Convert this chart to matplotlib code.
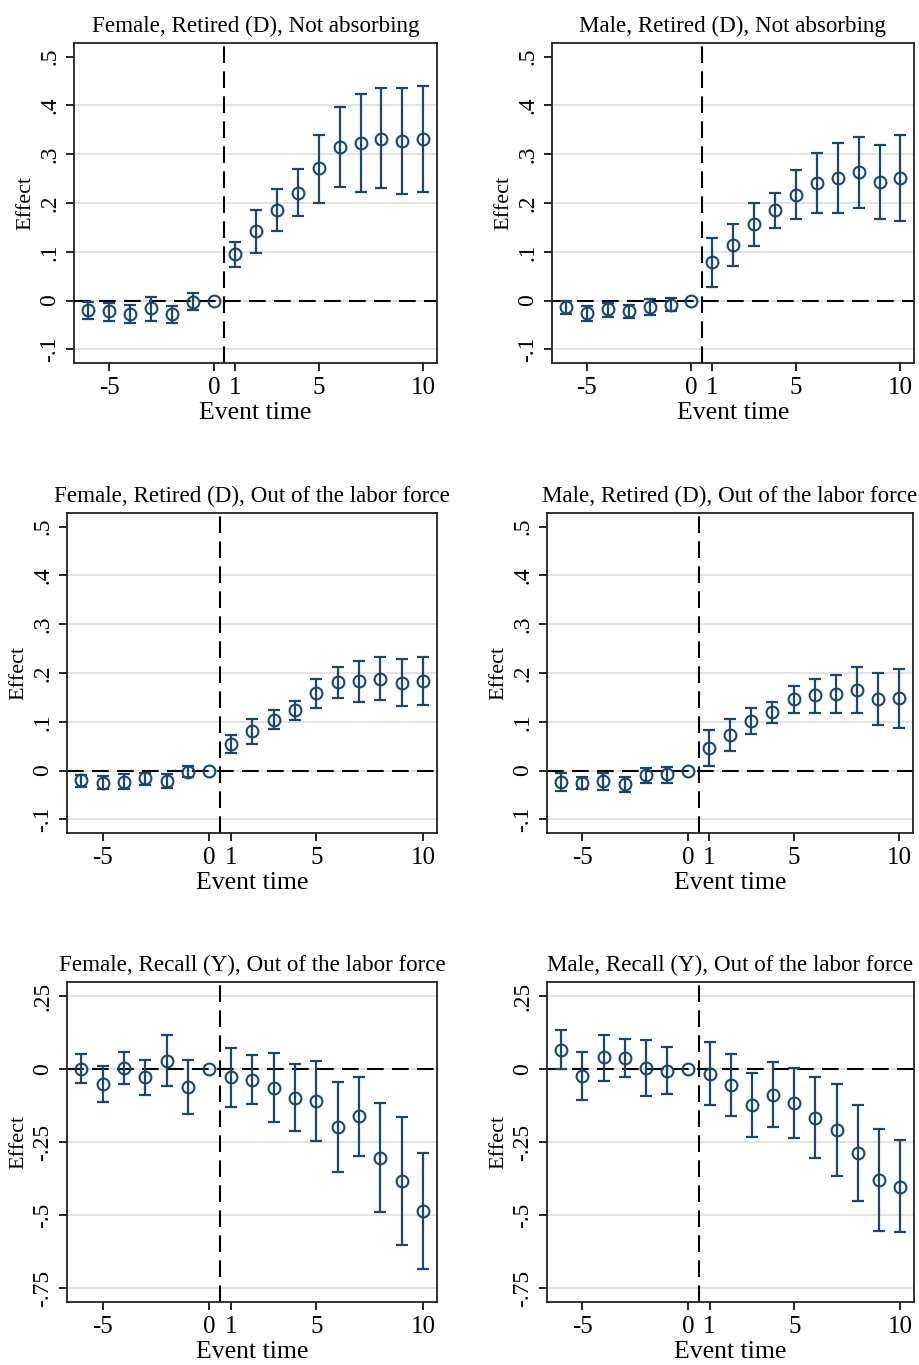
import numpy as np
import matplotlib
matplotlib.use("Agg")
import matplotlib.pyplot as plt

plt.rcParams['font.family'] = ['Liberation Serif', 'DejaVu Serif']

event_time = [-6, -5, -4, -3, -2, -1, 0, 1, 2, 3, 4, 5, 6, 7, 8, 9, 10]

# Female, Retired (D), Not absorbing
f_ret_na = [-0.020, -0.022, -0.027, -0.016, -0.027, -0.002, 0.0, 0.096, 0.143, 0.186, 0.221, 0.271, 0.314, 0.322, 0.332, 0.327, 0.331]
f_ret_na_lo = [-0.038, -0.042, -0.047, -0.041, -0.045, -0.019, 0.0, 0.069, 0.098, 0.143, 0.173, 0.201, 0.233, 0.223, 0.231, 0.218, 0.223]
f_ret_na_hi = [-0.002, -0.005, -0.009, 0.008, -0.011, 0.016, 0.0, 0.120, 0.186, 0.228, 0.270, 0.339, 0.396, 0.423, 0.435, 0.435, 0.440]

# Male, Retired (D), Not absorbing
m_ret_na = [-0.014, -0.025, -0.018, -0.021, -0.013, -0.009, 0.0, 0.079, 0.113, 0.156, 0.185, 0.217, 0.241, 0.251, 0.263, 0.244, 0.251]
m_ret_na_lo = [-0.027, -0.042, -0.033, -0.035, -0.030, -0.022, 0.0, 0.028, 0.070, 0.111, 0.149, 0.167, 0.180, 0.179, 0.190, 0.167, 0.163]
m_ret_na_hi = [-0.001, -0.011, -0.005, -0.010, 0.003, 0.005, 0.0, 0.129, 0.157, 0.199, 0.220, 0.268, 0.302, 0.323, 0.335, 0.319, 0.339]

# Female, Retired (D), Out of the labor force
f_ret_olf = [-0.020, -0.025, -0.023, -0.015, -0.021, -0.002, 0.0, 0.054, 0.081, 0.104, 0.124, 0.158, 0.181, 0.183, 0.188, 0.180, 0.183]
f_ret_olf_lo = [-0.033, -0.038, -0.038, -0.029, -0.036, -0.014, 0.0, 0.035, 0.055, 0.085, 0.104, 0.128, 0.149, 0.141, 0.145, 0.132, 0.134]
f_ret_olf_hi = [-0.009, -0.012, -0.007, -0.004, -0.007, 0.010, 0.0, 0.072, 0.106, 0.124, 0.143, 0.188, 0.212, 0.225, 0.233, 0.229, 0.233]

# Male, Retired (D), Out of the labor force
m_ret_olf = [-0.023, -0.026, -0.022, -0.028, -0.010, -0.008, 0.0, 0.047, 0.073, 0.102, 0.120, 0.147, 0.154, 0.157, 0.165, 0.147, 0.149]
m_ret_olf_lo = [-0.041, -0.038, -0.040, -0.044, -0.026, -0.025, 0.0, 0.010, 0.040, 0.075, 0.098, 0.119, 0.118, 0.118, 0.118, 0.094, 0.088]
m_ret_olf_hi = [-0.006, -0.014, -0.004, -0.014, 0.005, 0.008, 0.0, 0.083, 0.106, 0.128, 0.141, 0.173, 0.188, 0.195, 0.212, 0.199, 0.208]

# Female, Recall (Y), Out of the labor force
f_rec_olf = [0.001, -0.051, 0.005, -0.028, 0.028, -0.062, 0.0, -0.028, -0.038, -0.064, -0.098, -0.110, -0.197, -0.161, -0.303, -0.384, -0.486]
f_rec_olf_lo = [-0.049, -0.113, -0.051, -0.087, -0.058, -0.154, 0.0, -0.129, -0.121, -0.181, -0.213, -0.247, -0.351, -0.296, -0.490, -0.603, -0.685]
f_rec_olf_hi = [0.050, 0.011, 0.058, 0.030, 0.116, 0.030, 0.0, 0.073, 0.047, 0.056, 0.017, 0.026, -0.043, -0.026, -0.115, -0.165, -0.288]

# Male, Recall (Y), Out of the labor force
m_rec_olf = [0.067, -0.024, 0.040, 0.039, 0.005, -0.005, 0.0, -0.016, -0.054, -0.123, -0.087, -0.116, -0.166, -0.208, -0.286, -0.379, -0.402]
m_rec_olf_lo = [-0.001, -0.107, -0.041, -0.026, -0.091, -0.084, 0.0, -0.122, -0.159, -0.232, -0.199, -0.237, -0.305, -0.366, -0.450, -0.554, -0.559]
m_rec_olf_hi = [0.133, 0.058, 0.118, 0.103, 0.101, 0.077, 0.0, 0.091, 0.051, -0.015, 0.025, 0.003, -0.026, -0.051, -0.123, -0.205, -0.243]

titles = ["Female, Retired (D), Not absorbing", "Male, Retired (D), Not absorbing",
          "Female, Retired (D), Out of the labor force", "Male, Retired (D), Out of the labor force",
          "Female, Recall (Y), Out of the labor force", "Male, Recall (Y), Out of the labor force"]

xticks = [-5, 0, 1, 5, 10]
ret_yticks = [-0.1, 0, 0.1, 0.2, 0.3, 0.4, 0.5]
ret_ylabels = ["-.1", "0", ".1", ".2", ".3", ".4", ".5"]
rec_yticks = [-0.75, -0.5, -0.25, 0, 0.25]
rec_ylabels = ["-.75", "-.5", "-.25", "0", ".25"]

panels = [
    (f_ret_na, f_ret_na_lo, f_ret_na_hi),
    (m_ret_na, m_ret_na_lo, m_ret_na_hi),
    (f_ret_olf, f_ret_olf_lo, f_ret_olf_hi),
    (m_ret_olf, m_ret_olf_lo, m_ret_olf_hi),
    (f_rec_olf, f_rec_olf_lo, f_rec_olf_hi),
    (m_rec_olf, m_rec_olf_lo, m_rec_olf_hi),
]

# axes boxes in pixels: left, top, right, bottom
W, H = 920, 1365
boxes = [(74, 43, 437, 363), (552, 43, 914, 363),
         (67, 513, 437, 833), (547, 513, 913, 833),
         (67, 982, 437, 1302), (547, 982, 914, 1302)]

navy = '#1a476f'
fig = plt.figure(figsize=(W / 100, H / 100), dpi=100)

for i, (est, lo, hi) in enumerate(panels):
    l, t, r, b = boxes[i]
    ax = fig.add_axes([l / W, 1 - b / H, (r - l) / W, (b - t) / H])
    x = np.array(event_time)
    est = np.array(est)
    lo = np.array(lo)
    hi = np.array(hi)
    m = x != 0

    if i < 4:
        yt, yl, ylim = ret_yticks, ret_ylabels, (-0.128, 0.528)
    else:
        yt, yl, ylim = rec_yticks, rec_ylabels, (-0.797, 0.298)

    for v in yt:
        if i < 4 and v == 0.5:
            continue
        ax.axhline(v, color='#e1e1e1', lw=1.3, zorder=0)

    ax.axhline(0, color='black', lw=1.5, dashes=(8, 4), zorder=1)
    ax.axvline(0.5, color='black', lw=1.5, dashes=(8, 4), zorder=1)

    ax.errorbar(x[m], est[m], yerr=[est[m] - lo[m], hi[m] - est[m]], fmt='none',
                ecolor=navy, elinewidth=1.6, capsize=4.2, capthick=1.6, zorder=2)
    ax.plot(x, est, 'o', ms=8.5, mfc='none', mec=navy, mew=1.5, zorder=3)

    ax.set_xlim(-6.67, 10.65)
    ax.set_ylim(*ylim)
    ax.set_xticks(xticks)
    ax.set_xticklabels([str(v) for v in xticks], fontsize=18)
    ax.set_yticks(yt)
    ax.set_yticklabels(yl, fontsize=17, rotation=90, va='center')
    ax.tick_params(direction='out', length=6, width=1.2, color='black', pad=4)
    for s in ax.spines.values():
        s.set_linewidth(1.3)
        s.set_color('#222222')

    ax.set_xlabel('Event time', fontsize=18.5, labelpad=2)
    ax.set_ylabel('Effect', fontsize=16, labelpad=3)
    ax.set_title(titles[i], fontsize=16.6, pad=8)

fig.savefig('out.png', dpi=100, facecolor='white')
